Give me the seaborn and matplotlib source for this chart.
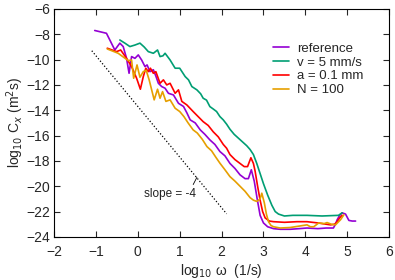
import matplotlib
matplotlib.use("Agg")
import matplotlib.pyplot as plt
import seaborn as sns

# reference curve
ref_x = [-1.03, -0.75, -0.55, -0.43, -0.35, -0.27, -0.21, -0.15, -0.07, 0.01, 0.09, 0.17, 0.22,
         0.29, 0.37, 0.43, 0.49, 0.57, 0.65, 0.73, 0.85, 0.97, 1.09, 1.17, 1.25, 1.37, 1.49, 1.6,
         1.72, 1.84, 1.96, 2.08, 2.2, 2.32, 2.44, 2.56, 2.64, 2.71, 2.78, 2.85, 2.92, 3.0, 3.1,
         3.24, 3.4, 3.64, 3.85, 4.04, 4.3, 4.5, 4.67, 4.72, 4.76, 4.82, 4.88, 4.96, 5.04, 5.12, 5.2]
ref_y = [-7.7, -7.92, -9.24, -8.7, -8.97, -9.9, -11.08, -9.76, -9.9, -9.63, -10.03, -10.55, -10.42,
         -10.95, -10.8, -11.3, -11.87, -12.13, -12.26, -12.66, -12.79, -13.45, -13.7, -14.2, -14.76,
         -15.0, -15.55, -15.9, -16.34, -16.7, -17.26, -17.6, -18.2, -18.6, -19.1, -19.4, -19.4,
         -18.7, -19.6, -21.0, -22.3, -22.9, -23.2, -23.35, -23.4, -23.4, -23.35, -23.3, -23.35,
         -23.3, -23.3, -23.0, -22.65, -22.3, -22.1, -22.2, -22.7, -22.75, -22.75]

# v = 5 mm/s
v_x = [-0.43, -0.31, -0.19, -0.07, 0.05, 0.15, 0.25, 0.37, 0.47, 0.53, 0.6, 0.65, 0.77, 0.89,
       1.0, 1.13, 1.21, 1.29, 1.41, 1.5, 1.56, 1.64, 1.72, 1.8, 1.88, 1.96, 2.04, 2.12, 2.2, 2.3,
       2.4, 2.5, 2.6, 2.68, 2.76, 2.84, 2.92, 3.0, 3.1, 3.2, 3.28, 3.36, 3.5, 3.7, 4.04, 4.4,
       4.79, 4.88]
v_y = [-8.45, -8.7, -8.97, -8.85, -8.7, -9.0, -9.37, -9.5, -9.24, -9.76, -9.7, -9.5, -10.03,
       -10.68, -10.68, -11.34, -11.6, -12.13, -12.39, -12.7, -13.05, -13.2, -13.71, -13.9, -14.1,
       -14.5, -14.76, -15.1, -15.5, -15.9, -16.2, -16.5, -16.8, -17.1, -17.5, -18.2, -19.0,
       -19.8, -20.7, -21.5, -22.0, -22.2, -22.35, -22.3, -22.3, -22.35, -22.3, -22.1]

# a = 0.1 mm
a_x = [-0.73, -0.51, -0.41, -0.27, -0.15, -0.03, 0.06, 0.13, 0.19, 0.25, 0.3, 0.37, 0.43, 0.53,
       0.61, 0.69, 0.77, 0.89, 0.97, 1.05, 1.17, 1.32, 1.44, 1.56, 1.68, 1.8, 1.92, 2.04, 2.12,
       2.2, 2.32, 2.44, 2.54, 2.62, 2.7, 2.76, 2.8, 2.86, 2.92, 2.98, 3.04, 3.14, 3.24, 3.5, 3.8,
       4.04, 4.3, 4.6, 4.7, 4.76, 4.82, 4.88]
a_y = [-9.1, -9.37, -9.24, -9.9, -10.55, -11.47, -12.34, -11.34, -10.68, -10.95, -10.68, -11.08,
       -10.95, -11.87, -11.6, -12.0, -11.87, -12.66, -12.39, -13.3, -13.58, -14.1, -14.5, -14.9,
       -15.2, -15.7, -16.1, -16.7, -17.0, -17.5, -17.9, -18.2, -18.45, -18.45, -17.75, -18.2,
       -18.8, -20.0, -21.1, -22.0, -22.5, -22.75, -22.8, -22.85, -22.8, -22.8, -22.9, -23.05,
       -23.0, -22.8, -22.5, -22.3]

# N = 100
n_x = [-0.73, -0.47, -0.23, -0.15, -0.1, -0.02, 0.05, 0.13, 0.2, 0.27, 0.33, 0.39, 0.47, 0.53,
       0.59, 0.67, 0.77, 0.89, 1.0, 1.1, 1.2, 1.32, 1.42, 1.54, 1.65, 1.76, 1.86, 1.96, 2.08, 2.2,
       2.32, 2.44, 2.56, 2.68, 2.76, 2.84, 2.92, 2.96, 3.02, 3.07, 3.12, 3.18, 3.24, 3.4, 3.64,
       3.85, 4.04, 4.12, 4.2, 4.32, 4.45, 4.52, 4.62, 4.72, 4.78, 4.84, 4.92]
n_y = [-9.16, -9.5, -10.08, -10.03, -11.47, -10.42, -11.39, -10.95, -10.85, -11.6, -12.39, -13.18,
       -12.34, -13.05, -12.53, -13.3, -13.18, -13.84, -14.1, -14.5, -15.0, -15.55, -15.8, -16.3,
       -16.87, -17.2, -17.7, -18.18, -18.7, -19.24, -19.6, -20.0, -20.4, -20.9, -21.1, -21.2,
       -21.0, -20.55, -21.3, -22.2, -22.8, -23.1, -23.2, -23.3, -23.26, -23.15, -23.05, -23.2,
       -23.2, -22.9, -22.95, -22.87, -23.0, -23.05, -22.85, -22.65, -22.26]

# slope = -4 guide line
guide_x = [-1.1, 2.12]
guide_y = [-9.3, -22.18]

series = [
    ("reference", ref_x, ref_y, "#9400d3"),
    ("v = 5 mm/s", v_x, v_y, "#009e73"),
    ("a = 0.1 mm", a_x, a_y, "#ff0000"),
    ("N = 100", n_x, n_y, "#e69f00"),
]

sns.set_style("ticks")
plt.rcParams['font.family'] = ['Liberation Sans', 'DejaVu Sans']

fig, ax = plt.subplots(figsize=(3.95, 2.8), dpi=100)
fig.subplots_adjust(left=0.137, right=0.985, top=0.968, bottom=0.154)

for label, xs, ys, col in series:
    sns.lineplot(x=xs, y=ys, ax=ax, color=col, lw=1.2, label=label,
                 sort=False, estimator=None)

ax.plot(guide_x, guide_y, color="black", lw=0.9, linestyle=(0, (1, 1.6)))
ax.annotate("slope = -4", xy=(1.41, -19.3), xytext=(0.77, -20.6),
            ha="center", va="center", fontsize=8.5, color="#222222",
            arrowprops=dict(arrowstyle="-", color="black", lw=0.6,
                            shrinkA=8, shrinkB=0, relpos=(0.9, 0.9)))

ax.set_xlim(-2, 6)
ax.set_ylim(-24, -6)
ax.set_xticks(range(-2, 7))
ax.set_yticks(range(-24, -5, 2))
ax.tick_params(direction="in", top=True, right=True, length=4, width=0.8,
               labelsize=10)
ax.tick_params(axis="x", pad=6)
ax.tick_params(axis="y", pad=3)
for s in ax.spines.values():
    s.set_visible(True)
    s.set_linewidth(0.8)
    s.set_color("black")

ax.set_xlabel(r"log$_{10}$ ω  (1/s)", fontsize=10, labelpad=2)
ax.set_ylabel(r"log$_{10}$ C$_x$ (m$^2$s)", fontsize=10, labelpad=0)

leg = ax.legend(loc="upper left", bbox_to_anchor=(0.654, 0.853), frameon=False,
                fontsize=9.5, handlelength=1.2, handletextpad=0.6,
                labelspacing=0.12, borderpad=0, borderaxespad=0)

fig.savefig("out.png", dpi=100)
